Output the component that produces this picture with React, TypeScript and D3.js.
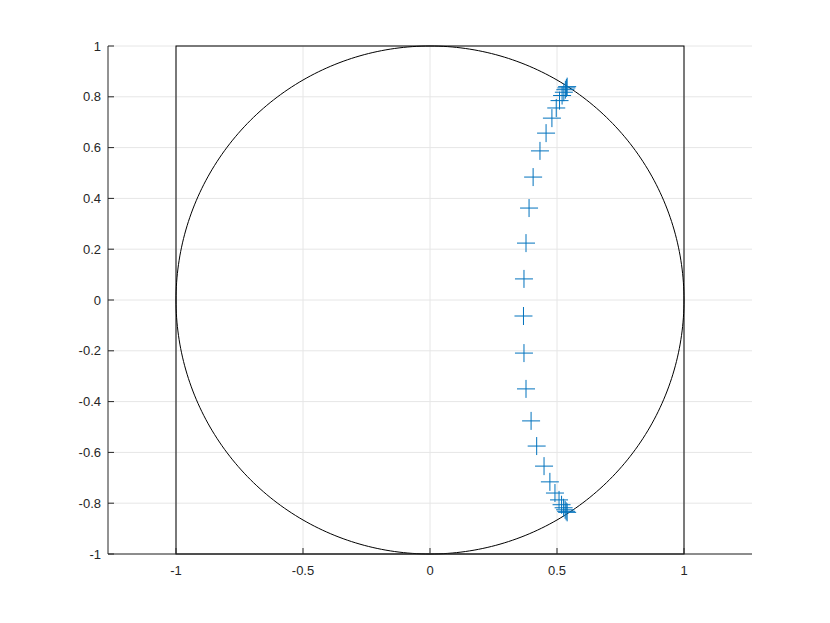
import React, { useEffect, useRef } from 'react'
import * as d3 from 'd3'

// points (upper branch, lower branch)
const upperX = [0.37, 0.378, 0.39, 0.406, 0.433, 0.457, 0.48, 0.497, 0.51, 0.52, 0.527, 0.533, 0.537, 0.54]
const upperY = [0.083, 0.224, 0.362, 0.484, 0.587, 0.657, 0.716, 0.756, 0.785, 0.805, 0.818, 0.828, 0.835, 0.84]
const lowerX = [0.368, 0.37, 0.378, 0.398, 0.42, 0.449, 0.472, 0.492, 0.508, 0.518, 0.526, 0.532, 0.536, 0.54]
const lowerY = [-0.063, -0.209, -0.35, -0.476, -0.575, -0.654, -0.716, -0.76, -0.787, -0.806, -0.818, -0.826, -0.832, -0.836]

const xTicks = [-1, -0.5, 0, 0.5, 1]
const yTicks = [-1, -0.8, -0.6, -0.4, -0.2, 0, 0.2, 0.4, 0.6, 0.8, 1]

export default function App() {
  const ref = useRef<SVGSVGElement>(null)

  useEffect(() => {
    const svg = d3.select(ref.current)
    svg.selectAll('*').remove()

    const left = 108, right = 752, top = 46, bottom = 554
    const half = (right - left) / 2 / ((bottom - top) / 2)
    const x = d3.scaleLinear().domain([-half, half]).range([left, right])
    const y = d3.scaleLinear().domain([-1, 1]).range([bottom, top])

    const g = svg.append('g')

    // grid
    g.selectAll('.gx').data(xTicks).enter().append('line')
      .attr('x1', d => x(d)).attr('x2', d => x(d))
      .attr('y1', top).attr('y2', bottom)
      .attr('stroke', '#e6e6e6').attr('stroke-width', 1)
    g.selectAll('.gy').data(yTicks).enter().append('line')
      .attr('x1', left).attr('x2', right)
      .attr('y1', d => y(d)).attr('y2', d => y(d))
      .attr('stroke', '#e6e6e6').attr('stroke-width', 1)

    // unit square and unit circle
    g.append('rect')
      .attr('x', x(-1)).attr('y', y(1))
      .attr('width', x(1) - x(-1)).attr('height', y(-1) - y(1))
      .attr('fill', 'none').attr('stroke', '#000').attr('stroke-width', 1)

    const circle = d3.range(0, 361).map(a => [Math.cos(a * Math.PI / 180), Math.sin(a * Math.PI / 180)] as [number, number])
    g.append('path')
      .attr('d', d3.line<[number, number]>().x(d => x(d[0])).y(d => y(d[1]))(circle))
      .attr('fill', 'none').attr('stroke', '#000').attr('stroke-width', 1)

    // markers
    const pts = upperX.map((v, i) => [v, upperY[i]]).concat(lowerX.map((v, i) => [v, lowerY[i]]))
    const arm = 9
    const m = g.selectAll('.pt').data(pts).enter().append('g')
      .attr('transform', d => 'translate(' + x(d[0]) + ',' + y(d[1]) + ')')
    m.append('line').attr('x1', -arm).attr('x2', arm).attr('y1', 0).attr('y2', 0)
      .attr('stroke', '#0072BD').attr('stroke-width', 1)
    m.append('line').attr('x1', 0).attr('x2', 0).attr('y1', -arm).attr('y2', arm)
      .attr('stroke', '#0072BD').attr('stroke-width', 1)

    // axes lines (left + bottom)
    const axisColor = '#262626'
    g.append('line').attr('x1', left).attr('x2', left).attr('y1', top).attr('y2', bottom)
      .attr('stroke', axisColor).attr('stroke-width', 1)
    g.append('line').attr('x1', left).attr('x2', right).attr('y1', bottom).attr('y2', bottom)
      .attr('stroke', axisColor).attr('stroke-width', 1)

    // ticks
    g.selectAll('.tx').data(xTicks).enter().append('line')
      .attr('x1', d => x(d)).attr('x2', d => x(d))
      .attr('y1', bottom).attr('y2', bottom - 6)
      .attr('stroke', axisColor)
    g.selectAll('.ty').data(yTicks).enter().append('line')
      .attr('x1', left).attr('x2', left + 6)
      .attr('y1', d => y(d)).attr('y2', d => y(d))
      .attr('stroke', axisColor)

    const font = '"Liberation Sans", Arial, sans-serif'
    g.selectAll('.lx').data(xTicks).enter().append('text')
      .attr('x', d => x(d)).attr('y', bottom + 21)
      .attr('text-anchor', 'middle')
      .attr('font-family', font).attr('font-size', 13).attr('fill', axisColor)
      .text(d => String(d))
    g.selectAll('.ly').data(yTicks).enter().append('text')
      .attr('x', left - 7).attr('y', d => y(d) + 4.5)
      .attr('text-anchor', 'end')
      .attr('font-family', font).attr('font-size', 13).attr('fill', axisColor)
      .text(d => String(d))
  }, [])

  return (
    <svg ref={ref} width={830} height={623}
      style={{ position: 'absolute', left: 0, top: 0, background: '#fff' }} />
  )
}
